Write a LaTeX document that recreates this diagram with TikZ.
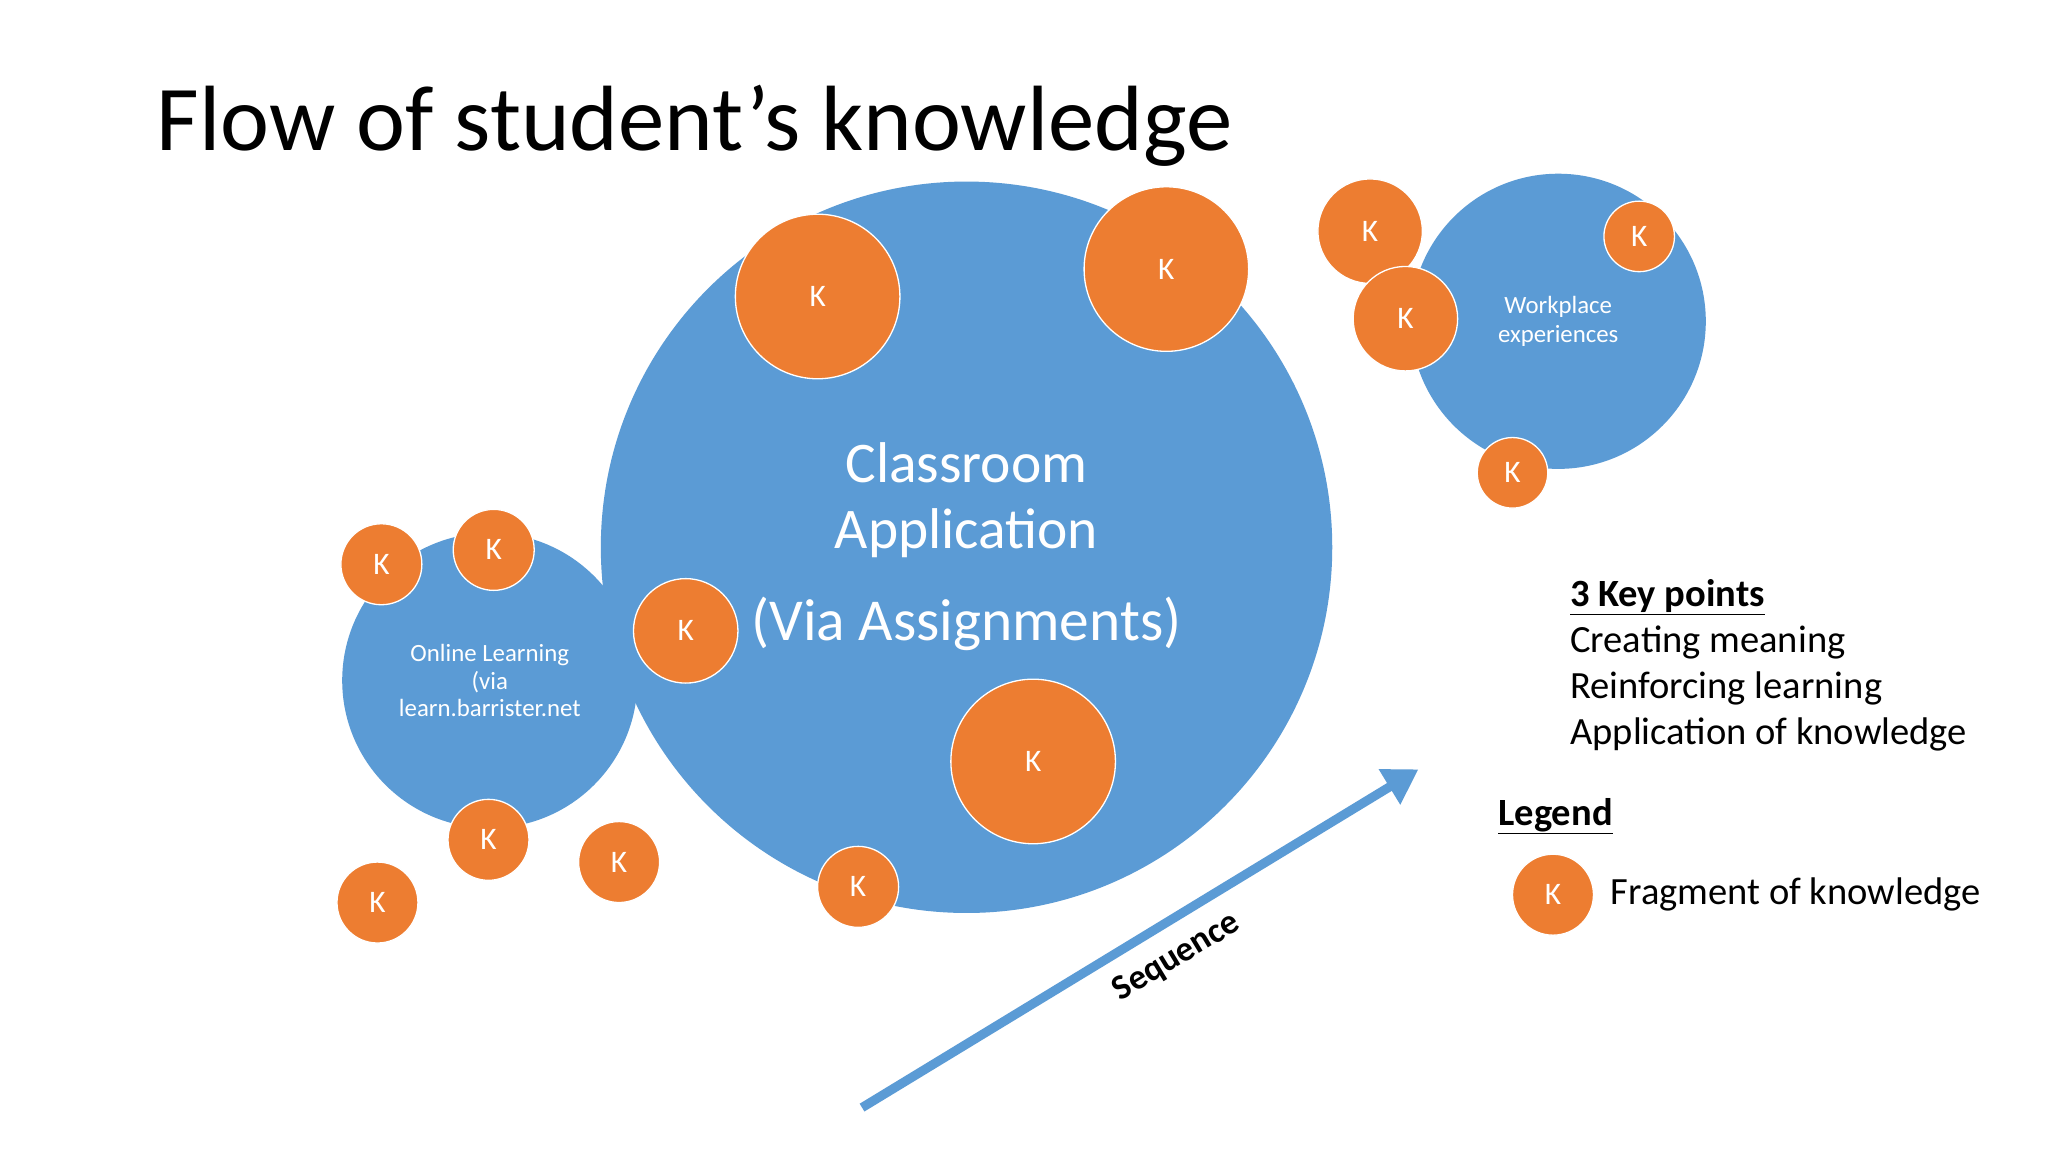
\documentclass[tikz,border=0pt]{standalone}
\usepackage{fontspec}
\setmainfont{Carlito}
\usetikzlibrary{arrows.meta}
\definecolor{cblue}{HTML}{5B9BD5}
\definecolor{corange}{HTML}{ED7D31}
\tikzset{
  kc/.style={circle,fill=corange,draw=white,line width=1pt,text=white,inner sep=0pt,minimum size=#1,font=\fontsize{24}{24}\selectfont},
  bc/.style={circle,fill=cblue,inner sep=0pt,minimum size=#1},
  txt/.style={text=black,anchor=west,inner sep=0pt,font=\fontsize{29.5}{29.5}\selectfont}
}
\begin{document}
\begin{tikzpicture}[x=1pt,y=-1pt]
\useasboundingbox[fill=white] (0,0) rectangle (1568,882);
\node[anchor=base west,inner sep=0pt,font=\fontsize{71}{71}\selectfont] (title) at (120,115) {Flow of student’s knowledge};
\node[bc=560pt] (big) at (740,419) {};
\node[bc=226pt] (online) at (375,521) {};
\node[bc=226pt] (work) at (1193,246) {};
\node[text=white,align=center,font=\fontsize{44}{50}\selectfont] (ct) at (740,383) {Classroom\\Application};
\node[text=white,font=\fontsize{45.5}{45.5}\selectfont] (ct2) at (740,478) {(Via Assignments)};
\node[text=white,align=center,font=\fontsize{19}{21}\selectfont] (ot) at (375,521) {Online Learning\\(via\\learn.barrister.net};
\node[text=white,align=center,font=\fontsize{19}{22}\selectfont] (wt) at (1193,246) {Workplace\\experiences};
\node[kc=126pt] (k1) at (626,227) {K};
\node[kc=126pt] (k2) at (893,206) {K};
\node[kc=80pt] (k3) at (525,483) {K};
\node[kc=126pt] (k4) at (791,583) {K};
\node[kc=62pt] (k5) at (657,679) {K};
\node[kc=62pt] (k6) at (292,432) {K};
\node[kc=62pt] (k7) at (378,421) {K};
\node[kc=62pt] (k8) at (374,643) {K};
\node[kc=62pt] (k9) at (474,660) {K};
\node[kc=62pt] (k10) at (289,691) {K};
\node[kc=80pt] (k11) at (1049,177) {K};
\node[kc=80pt] (k12) at (1076,244) {K};
\node[kc=54pt] (k13) at (1255,181) {K};
\node[kc=54pt] (k14) at (1158,362) {K};
\coordinate (as) at (660,848);
\coordinate (ae) at (1086,589);
\draw[cblue,line width=7pt,-{Triangle[length=26pt,width=30pt]}] (as) -- (ae);
\node[rotate=31.3,font=\bfseries\fontsize{27}{27}\selectfont] (seq) at (901,733) {Sequence};
\node[txt,font=\bfseries\fontsize{29.5}{29.5}\selectfont] (kp) at (1202,457) {\underline{3 Key points}};
\node[txt] (l1) at (1202,492) {Creating meaning};
\node[txt] (l2) at (1202,527) {Reinforcing learning};
\node[txt] (l3) at (1202,562) {Application of knowledge};
\node[txt,font=\bfseries\fontsize{29.5}{29.5}\selectfont] (lg) at (1147,625) {\underline{Legend}};
\node[kc=62pt] (kl) at (1189,685) {K};
\node[txt] (fk) at (1233,685) {Fragment of knowledge};
\end{tikzpicture}
\end{document}
